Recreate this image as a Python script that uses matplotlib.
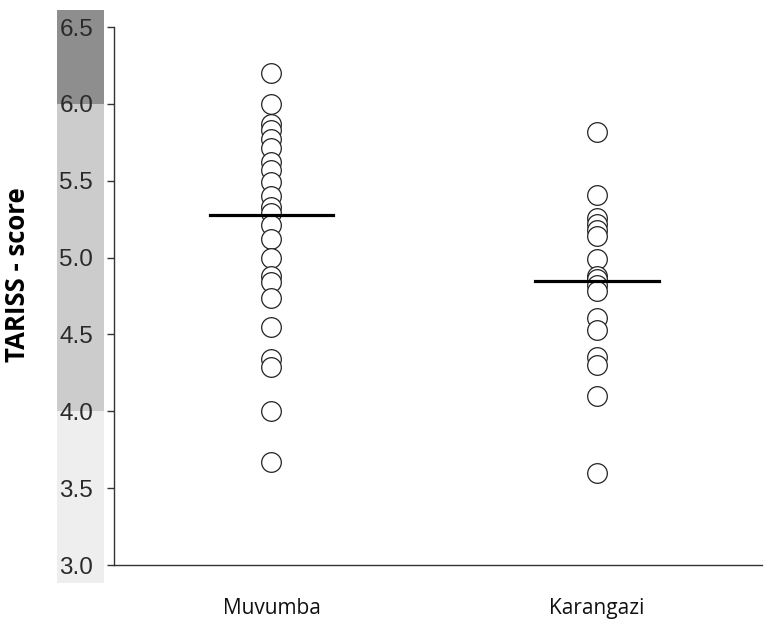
import numpy as np
import matplotlib
matplotlib.use('Agg')
import matplotlib.pyplot as plt
import matplotlib.transforms as mtransforms

# values
groups = ['Muvumba', 'Karangazi']
muvumba = [6.20, 6.00, 5.87, 5.83, 5.77, 5.71, 5.62, 5.57, 5.49, 5.40, 5.33, 5.29,
           5.21, 5.12, 5.00, 4.88, 4.84, 4.74, 4.55, 4.34, 4.29, 4.00, 3.67]
karangazi = [5.82, 5.41, 5.26, 5.22, 5.18, 5.14, 4.99, 4.88, 4.86, 4.82, 4.78,
             4.61, 4.53, 4.35, 4.30, 4.10, 3.60]
centre_lines = [5.28, 4.85]
yticks = [3.0, 3.5, 4.0, 4.5, 5.0, 5.5, 6.0, 6.5]
# shaded ranges behind the y tick labels
band_edges = [(2.88, 4.0), (4.0, 6.0), (6.0, 6.61)]
band_colors = ['#eeeeee', '#cccccc', '#8e8e8e']

fig = plt.figure(figsize=(7.64, 6.19), dpi=100)
ax = fig.add_axes([114/764, 1 - 565/619, 648/764, (565 - 27)/619])

for i, vals in enumerate([muvumba, karangazi]):
    ax.scatter(np.full(len(vals), i), vals, s=200, facecolor='white',
               edgecolor='#222222', linewidth=0.9, zorder=3)
    ax.plot([i - 0.19, i + 0.19], [centre_lines[i]] * 2, color='black',
            linewidth=2.3, zorder=4)

ax.set_xlim(-0.484, 1.508)
ax.set_ylim(3.0, 6.5)

trans = mtransforms.blended_transform_factory(ax.transAxes, ax.transData)
for (lo, hi), c in zip(band_edges, band_colors):
    ax.add_patch(plt.Rectangle((-0.088, lo), 0.0725, hi - lo, transform=trans,
                               facecolor=c, edgecolor='none', clip_on=False, zorder=0))

ax.set_yticks(yticks)
ax.set_yticklabels(['%.1f' % t for t in yticks], fontsize=17.5, color='#2a2a2a',
                   family='Liberation Sans', zorder=5)
ax.tick_params(axis='y', length=5, width=1, color='#333333', pad=10)
ax.set_xticks([0, 1])
ax.set_xticklabels(groups, fontsize=15, family='Open Sans', color='#111111')
ax.tick_params(axis='x', length=0, pad=24)

for s in ['top', 'right']:
    ax.spines[s].set_visible(False)
for s in ['left', 'bottom']:
    ax.spines[s].set_color('#333333')
    ax.spines[s].set_linewidth(1)

fig.text(18/764, 1 - 275/619, 'TARISS - score', rotation=90, fontsize=18.5,
         fontweight='bold', family='Open Sans', ha='center', va='center')

plt.savefig('out.png', dpi=100)
